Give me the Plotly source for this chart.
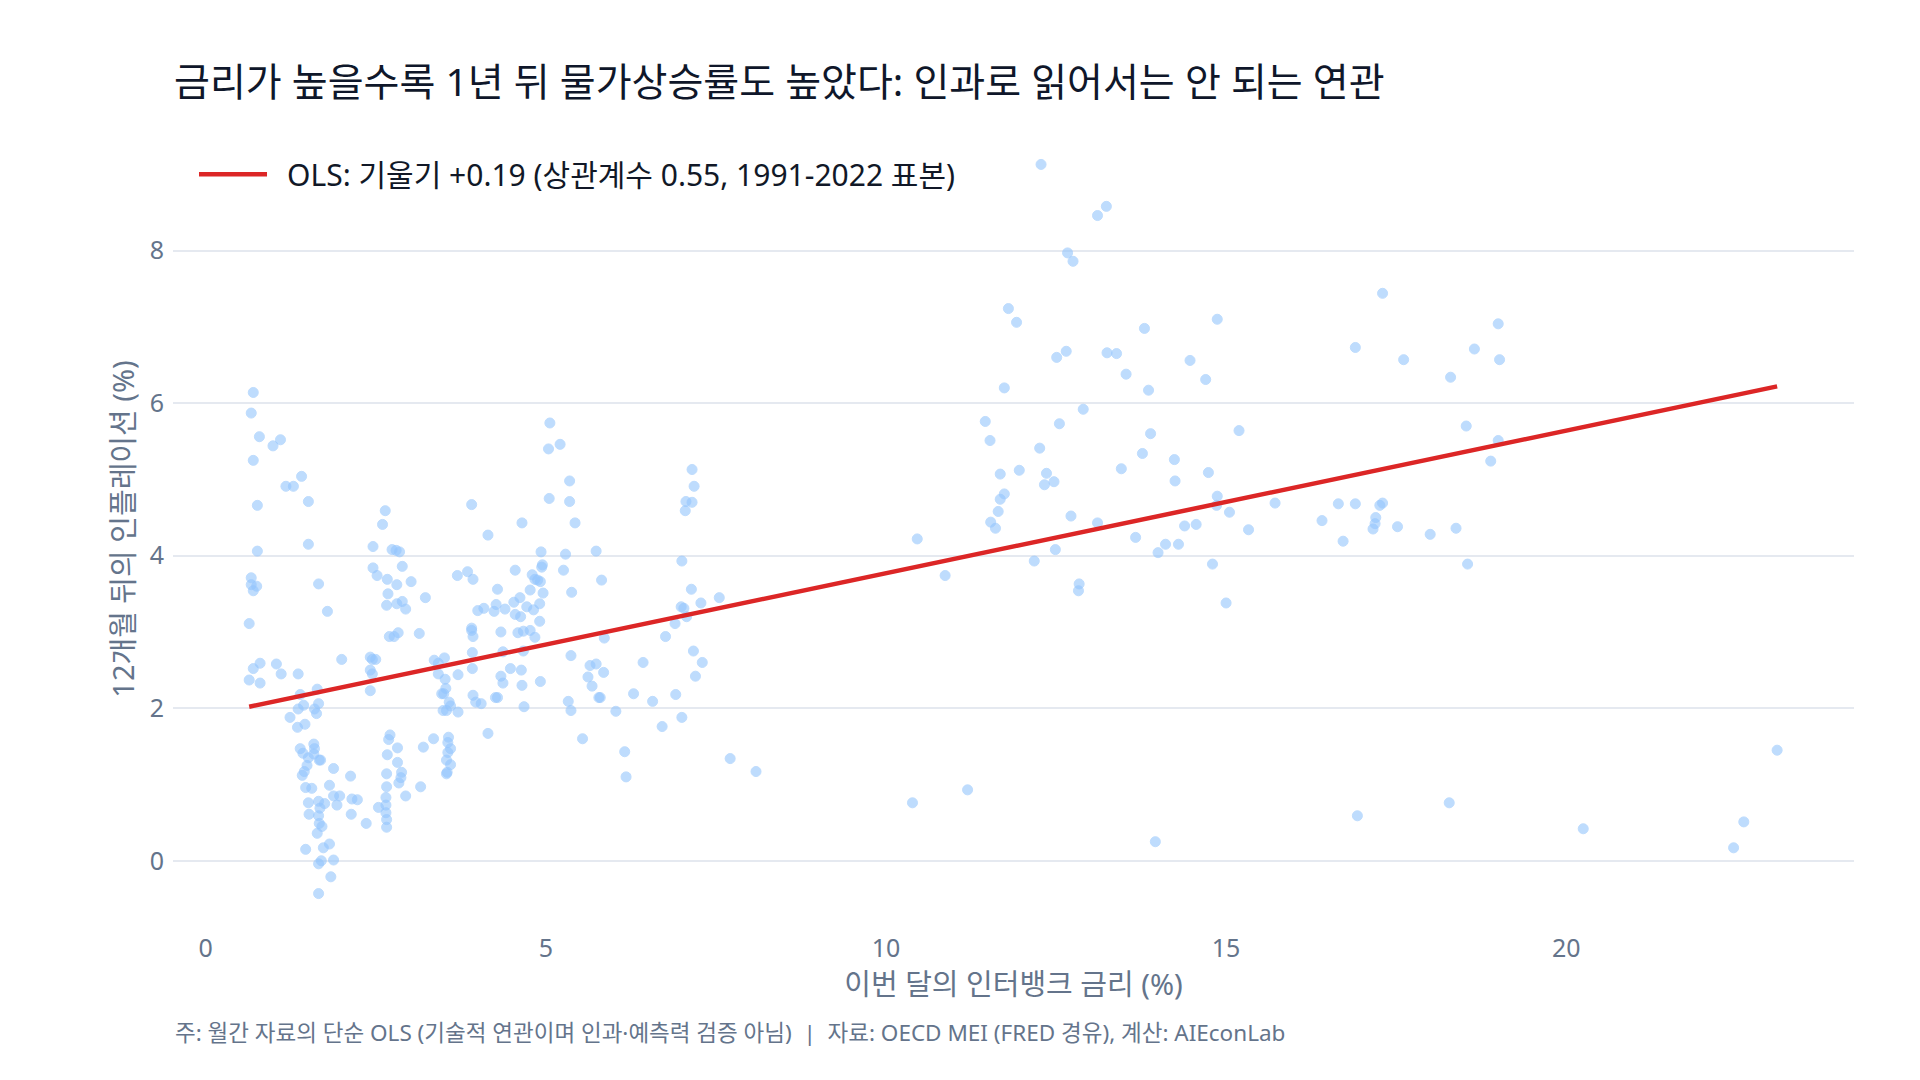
import plotly.graph_objects as go

# 이번 달의 인터뱅크 금리 (%) and 12개월 뒤의 인플레이션 (%)
rate = [
    0.70, 0.67, 0.79, 0.99, 1.10, 0.70, 1.18, 1.29, 1.41, 1.51, 0.76, 0.76, 1.51, 0.67, 0.67, 0.75,
    0.70, 1.66, 1.79, 0.64, 0.80, 0.70, 0.64, 0.80, 1.04, 1.11, 1.36, 2.00, 1.64, 1.39, 1.66, 1.36,
    1.44, 1.60, 1.63, 1.24, 1.35, 1.46,
    1.39, 1.43, 1.59, 1.60, 1.59, 1.51, 1.67, 1.69, 1.49, 1.42, 1.45, 1.47, 1.56, 1.51, 1.52, 1.66,
    1.68, 1.66, 1.67, 1.71, 1.64, 1.75, 1.82, 1.88, 1.88, 1.93, 1.97, 2.13, 2.14, 2.15, 2.23, 2.36,
    1.47, 1.73, 1.82, 1.66, 1.70, 1.88, 1.84, 1.66,
    2.64, 2.60, 2.46, 2.74, 2.80, 2.85, 2.89, 2.46, 2.52, 2.67, 2.81, 3.02, 3.23, 2.68, 2.66, 2.81,
    2.89, 2.94, 2.70, 2.77, 2.83, 3.14, 2.42, 2.45, 2.50, 2.42, 2.45, 2.42,
    2.71, 2.69, 2.82, 2.67, 2.82, 2.88, 2.84, 2.87, 2.94, 2.66, 2.66, 2.65, 2.65, 2.65, 2.66, 2.66,
    2.54, 3.20, 3.16, 3.35,
    3.91, 4.15, 4.65, 3.70, 3.85, 3.93, 4.29, 4.55, 4.00, 4.09, 4.24, 4.27, 4.40, 4.55, 4.53, 4.62,
    4.72, 4.77, 4.82, 4.63, 3.91, 3.91, 3.93, 4.34, 4.59, 4.67, 4.77, 4.84, 4.67, 3.92, 4.37, 3.92,
    4.48, 4.64, 4.34, 4.37, 4.65, 3.93, 3.97, 4.05, 4.26, 4.29, 4.68, 4.15, 3.71, 3.36, 3.42, 3.51,
    3.42, 3.52, 3.53, 3.50, 3.47, 3.58, 3.60, 3.54, 3.71, 3.49, 3.57, 3.56, 3.60, 3.56, 3.54, 3.60,
    3.55, 3.54, 4.92, 4.93,
    4.80, 4.84, 4.88, 4.92, 4.94, 4.95, 4.96, 4.91, 4.91,
    5.06, 5.04, 5.21, 5.35, 5.05, 5.35, 5.43, 5.29, 5.74, 5.26, 5.38, 5.82, 5.37, 5.86, 5.62, 5.65,
    5.74, 5.85, 5.68, 5.78, 5.80, 5.33, 5.37, 5.54, 6.03, 6.16, 6.18, 6.29, 6.43, 6.57, 6.71, 6.76,
    6.91, 7.00, 6.90, 6.99, 7.03, 7.07, 7.20, 7.17, 7.30, 7.28, 7.55, 7.14, 7.00, 7.05, 7.06, 7.15,
    7.18, 7.15, 7.71, 8.09,
    11.80, 11.92, 11.74, 11.46, 11.53, 12.26, 11.96, 12.36, 12.33, 11.68, 11.74, 11.68, 11.65, 11.54,
    11.61, 10.46, 10.87, 12.18, 10.39, 11.20,
    12.28, 13.24, 13.11, 12.67, 12.75, 17.30, 14.87, 13.80, 12.65, 12.51, 13.25, 13.39, 13.53, 14.47,
    14.70, 13.86, 16.90, 12.90, 12.55, 13.89, 13.77, 15.19, 12.47, 13.46, 14.24, 14.25, 14.74, 12.72,
    13.11, 14.87, 14.86, 15.05, 15.72, 16.41, 16.65, 16.90, 17.30, 17.26, 17.20, 17.19, 17.16, 17.52,
    16.72, 15.33, 14.39, 14.56, 13.67, 14.11, 14.30, 14.00, 12.49, 14.80, 12.84, 12.83, 15.00, 13.96,
    16.93,
    17.61, 18.65, 19.00, 19.02, 18.30, 18.53, 19.00, 18.89, 18.00, 18.38, 18.55, 18.28, 20.25, 22.61,
    22.46, 23.10,
]
infl_next = [
    6.14, 5.87, 5.56, 5.44, 5.52, 5.25, 4.91, 4.91, 5.04, 4.71, 4.66, 4.06, 4.15, 3.71, 3.62, 3.60,
    3.54, 3.63, 3.27, 3.11, 2.59, 2.52, 2.37, 2.33, 2.58, 2.45, 2.45, 2.64, 2.25, 2.18, 2.06, 1.99,
    2.04, 1.99, 1.93, 1.88, 1.75, 1.79,
    1.47, 1.41, 1.53, 1.47, 1.40, 1.35, 1.32, 1.32, 1.25, 1.12, 1.17, 0.96, 0.95, 0.76, 0.61, 0.78,
    0.69, 0.59, 0.49, 0.45, 0.36, 0.75, 0.99, 1.21, 0.85, 0.73, 0.85, 1.11, 0.61, 0.81, 0.80, 0.49,
    0.15, 0.17, 0.22, -0.04, 0.00, 0.01, -0.21, -0.43,
    4.59, 4.41, 4.12, 4.08, 4.07, 4.05, 3.86, 3.84, 3.74, 3.69, 3.62, 3.66, 3.45, 3.50, 3.35, 3.37,
    3.40, 3.30, 2.94, 2.94, 2.99, 2.98, 2.67, 2.64, 2.64, 2.50, 2.45, 2.23,
    1.65, 1.59, 1.48, 1.39, 1.29, 1.16, 1.02, 1.09, 0.85, 1.14, 0.97, 0.83, 0.73, 0.63, 0.54, 0.44,
    0.70, 1.49, 0.97, 1.60,
    4.67, 4.27, 4.43, 3.74, 3.79, 3.69, 3.56, 3.81, 3.28, 3.31, 3.27, 3.36, 3.30, 3.23, 3.39, 3.45,
    3.33, 3.55, 3.29, 3.20, 3.05, 3.02, 2.94, 3.00, 2.99, 3.01, 3.02, 2.93, 2.75, 2.73, 2.74, 2.52,
    2.52, 2.50, 2.42, 2.33, 2.30, 2.17, 2.08, 2.06, 2.14, 2.14, 2.02, 1.67, 2.44, 2.63, 2.59, 2.66,
    2.45, 2.38, 2.26, 2.19, 2.19, 2.08, 2.03, 1.97, 1.95, 1.97, 1.62, 1.55, 1.47, 1.42, 1.32, 1.26,
    1.16, 1.14, 2.35, 4.05,
    3.75, 3.69, 3.68, 3.66, 3.85, 3.88, 3.51, 3.37, 3.14,
    5.74, 5.40, 5.46, 4.98, 4.75, 4.71, 4.43, 4.02, 4.06, 3.81, 3.52, 3.68, 2.69, 2.92, 2.41, 2.56,
    2.58, 2.47, 2.29, 2.14, 2.14, 2.09, 1.97, 1.60, 1.96, 1.43, 1.10, 2.19, 2.60, 2.09, 1.76, 2.94,
    2.18, 1.88, 3.11, 3.33, 3.31, 3.20, 2.42, 2.75, 2.60, 3.38, 3.45, 3.56, 3.93, 4.59, 4.71, 4.70,
    4.91, 5.13, 1.34, 1.17,
    7.24, 7.06, 6.20, 5.76, 5.51, 5.41, 5.12, 5.08, 4.93, 5.07, 4.81, 4.74, 4.58, 4.44,
    4.36, 4.22, 3.74, 3.93, 0.76, 0.93,
    9.13, 8.58, 8.46, 7.97, 7.86, 7.44, 7.10, 6.98, 6.68, 6.60, 6.66, 6.65, 6.38, 6.56,
    6.31, 6.17, 6.73, 5.92, 5.73, 5.60, 5.34, 5.64, 4.97, 5.14, 5.26, 4.98, 5.09, 4.52,
    4.43, 4.78, 4.66, 4.57, 4.69, 4.46, 4.68, 4.68, 4.69, 4.66, 4.50, 4.42, 4.35, 4.38,
    4.19, 4.34, 4.39, 4.41, 4.24, 4.15, 4.15, 4.04, 4.08, 3.89, 3.63, 3.54, 3.38, 0.25,
    0.59,
    6.57, 6.71, 7.04, 6.57, 6.34, 5.70, 5.51, 5.24, 4.28, 4.36, 3.89, 0.76, 0.42, 0.51,
    0.17, 1.45,
]

# OLS fit as shown in the chart
ols_intercept = 1.90
ols_slope = 0.187
ols_label = "OLS: 기울기 +0.19 (상관계수 0.55, 1991-2022 표본)"

title_text = "금리가 높을수록 1년 뒤 물가상승률도 높았다: 인과로 읽어서는 안 되는 연관"
x_title = "이번 달의 인터뱅크 금리 (%)"
y_title = "12개월 뒤의 인플레이션 (%)"
footer = "주: 월간 자료의 단순 OLS (기술적 연관이며 인과·예측력 검증 아님)  |  자료: OECD MEI (FRED 경유), 계산: AIEconLab"

x_ticks = [0, 5, 10, 15, 20]
y_ticks = [0, 2, 4, 6, 8]

FONT = "Noto Sans, Noto Sans CJK KR, sans-serif"
GRAY = "#64748b"

line_x = [min(rate), max(rate)]
line_y = [ols_intercept + ols_slope * v for v in line_x]

fig = go.Figure()
fig.add_trace(go.Scatter(
    x=rate, y=infl_next, mode="markers", showlegend=False,
    marker=dict(size=10, color="#93c5fd", opacity=0.6,
                line=dict(width=1, color="#93c5fd")),
    hoverinfo="x+y",
))
fig.add_trace(go.Scatter(
    x=line_x, y=line_y, mode="lines", name="\u2002" + ols_label,
    line=dict(color="#dc2626", width=4.5),
))

fig.update_layout(
    width=1920, height=1080,
    paper_bgcolor="white", plot_bgcolor="white",
    margin=dict(l=173, r=66, t=124, b=146),
    font=dict(family=FONT, color=GRAY),
    title=dict(text=title_text, x=174 / 1920, xanchor="left", xref="container",
               y=1 - 82 / 1080, yanchor="middle", yref="container",
               font=dict(family=FONT, size=39, color="#0f172a")),
    legend=dict(orientation="h", x=0.0125, xanchor="left", y=0.938, yanchor="middle",
                bgcolor="rgba(0,0,0,0)", itemwidth=68,
                font=dict(family=FONT, size=30, color="#111827")),
    xaxis=dict(range=[-0.48, 24.23], tickvals=x_ticks, showgrid=False, zeroline=False,
               showline=False, ticks="", ticklabelstandoff=-3,
               tickfont=dict(size=25, color=GRAY),
               title=dict(text=x_title, font=dict(size=29, color=GRAY), standoff=4)),
    yaxis=dict(range=[-0.96, 9.66], tickvals=y_ticks, showgrid=True, gridcolor="#e5e9f0",
               gridwidth=2, zeroline=False, showline=False, ticks="",
               ticklabelstandoff=8,
               tickfont=dict(size=25, color=GRAY),
               title=dict(text=y_title, font=dict(size=29, color=GRAY), standoff=6)),
    annotations=[dict(text=footer, x=0, xref="paper", xanchor="left",
                      y=-(1032 - 934) / 810, yref="paper", yanchor="middle",
                      showarrow=False, font=dict(family=FONT, size=22.5, color=GRAY))],
)

fig.write_html("out.html")
